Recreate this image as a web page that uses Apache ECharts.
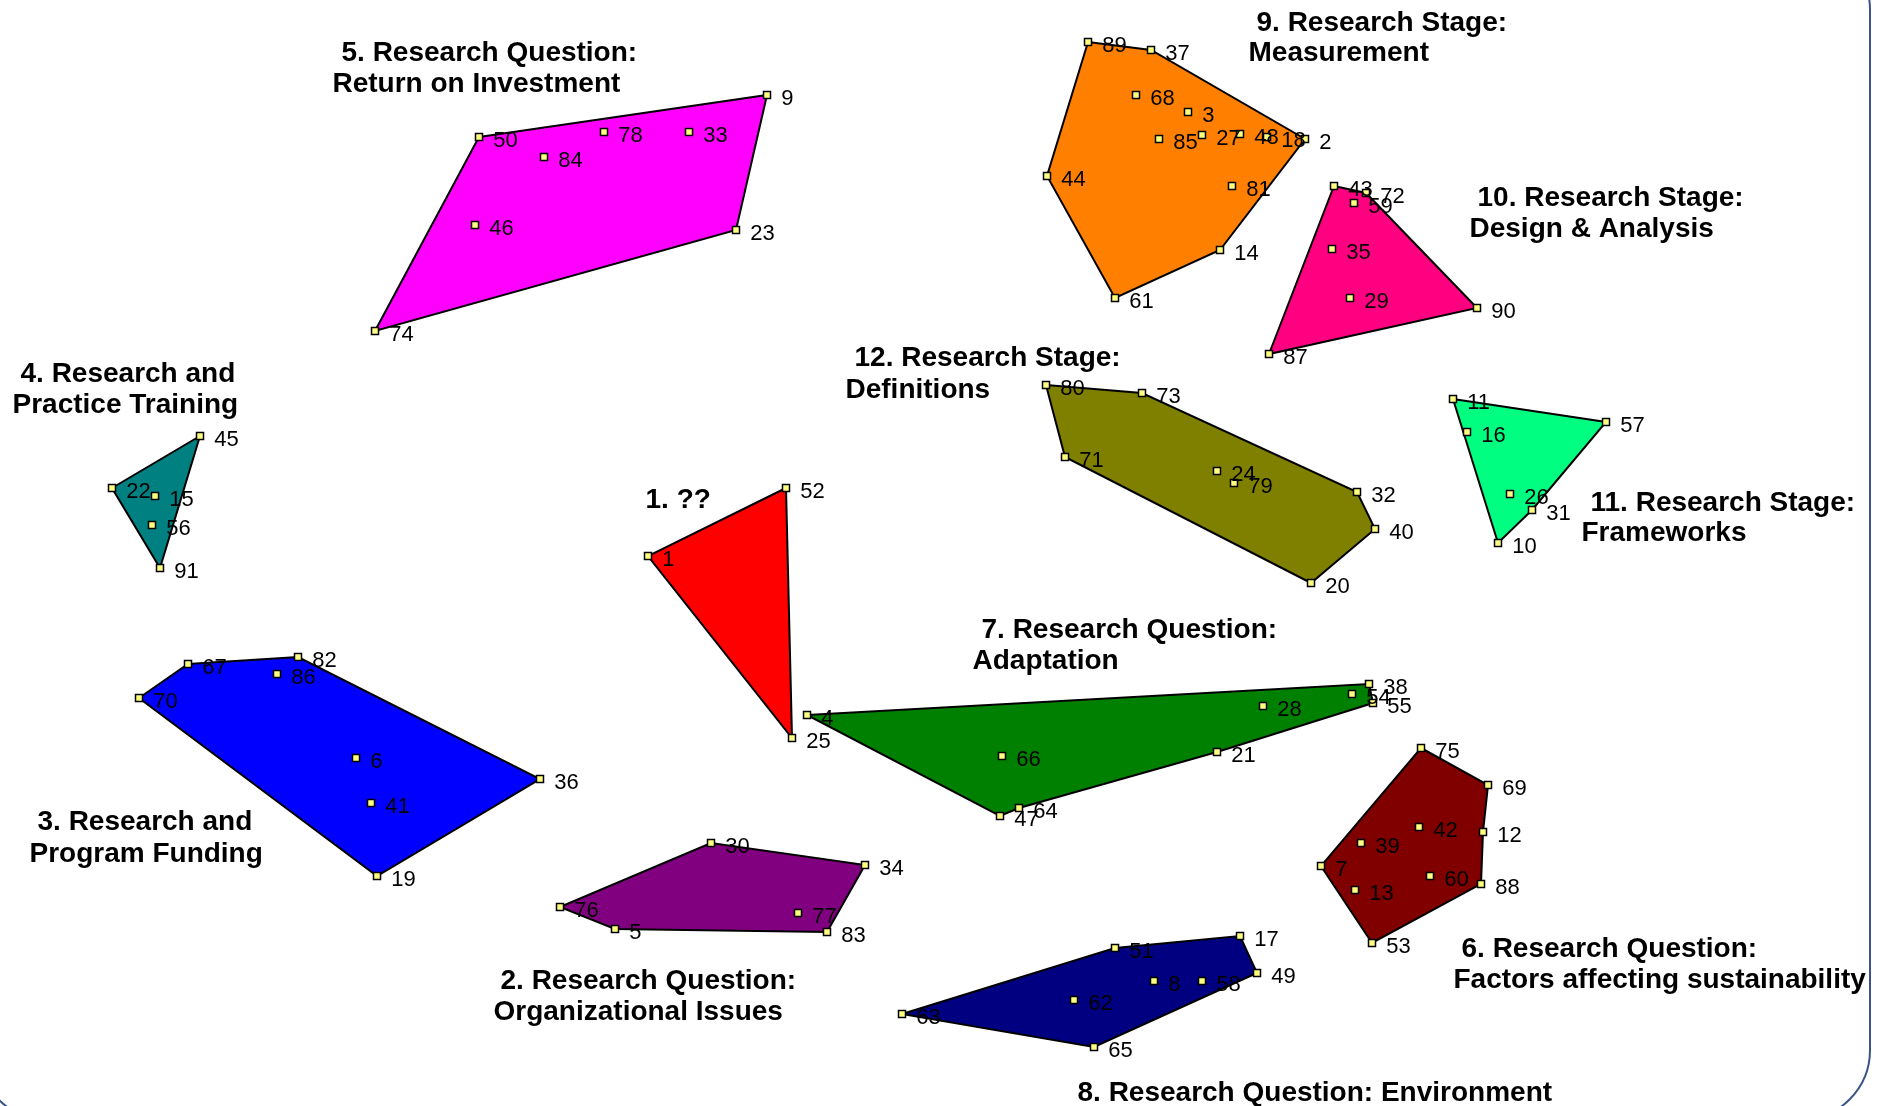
<!DOCTYPE html>
<html>
<head>
<meta charset="utf-8">
<script src="https://cdn.jsdelivr.net/npm/echarts@6/dist/echarts.min.js"></script>
<style>
html,body{margin:0;padding:0;background:#fff;}
#chart{width:1889px;height:1106px;}
</style>
</head>
<body>
<div id="chart"></div>
<script>
// ---- Data: statement positions on the concept map, [statement id, x, y] ----
const cluster1 = [['52',786,488],['1',648,556],['25',792,738]];
const cluster2 = [['76',560,907],['30',711,843],['34',865,865],['83',827,932],['5',615,929],['77',798,913]];
const cluster3 = [['70',139,698],['67',188,664],['82',298,657],['36',540,779],['19',377,876],['86',277,674],['6',356,758],['41',371,803]];
const cluster4 = [['45',200,436],['22',112,488],['91',160,568],['15',155,496],['56',152,525]];
const cluster5 = [['50',479,137],['9',767,95],['23',736,230],['74',375,331],['84',544,157],['78',604,132],['33',689,132],['46',475,225]];
const cluster6 = [['75',1421,748],['69',1488,785],['12',1483,832],['88',1481,884],['53',1372,943],['7',1321,866],['39',1361,843],['42',1419,827],['13',1355,890],['60',1430,876]];
const cluster7 = [['4',807,715],['38',1369,684],['55',1373,703],['21',1217,752],['64',1019,808],['47',1000,816],['66',1002,756],['28',1263,706],['54',1352,694]];
const cluster8 = [['63',902,1014],['51',1115,948],['17',1240,936],['49',1257,973],['65',1094,1047],['62',1074,1000],['8',1154,981],['58',1202,981]];
const cluster9 = [['89',1088,42],['37',1151,50],['2',1305,139],['14',1220,250],['61',1115,298],['44',1047,176],['68',1136,95],['3',1188,112],['85',1159,139],['27',1202,135],['48',1240,134],['18',1267,137],['81',1232,186]];
const cluster10 = [['43',1334,186],['72',1366,193],['90',1477,308],['87',1269,354],['59',1354,203],['35',1332,249],['29',1350,298]];
const cluster11 = [['11',1453,399],['57',1606,422],['31',1532,510],['10',1498,543],['16',1467,432],['26',1510,494]];
const cluster12 = [['80',1046,385],['73',1142,393],['32',1357,492],['40',1375,529],['20',1311,583],['71',1065,457],['24',1217,471],['79',1234,483]];

// hull (boundary) statement ids, in drawing order
const hull1 = ['52','1','25'];
const hull2 = ['76','30','34','83','5'];
const hull3 = ['70','67','82','36','19'];
const hull4 = ['45','22','91'];
const hull5 = ['50','9','23','74'];
const hull6 = ['75','69','12','88','53','7'];
const hull7 = ['4','38','55','21','64','47'];
const hull8 = ['63','51','17','49','65'];
const hull9 = ['89','37','2','14','61','44'];
const hull10 = ['43','72','90','87'];
const hull11 = ['11','57','31','10'];
const hull12 = ['80','73','32','40','20','71'];

// cluster names (one entry per text line)
const clusterTitles = [
  ['1. ??'],
  ['2. Research Question:','Organizational Issues'],
  ['3. Research and','Program Funding'],
  ['4. Research and','Practice Training'],
  ['5. Research Question:','Return on Investment'],
  ['6. Research Question:','Factors affecting sustainability'],
  ['7. Research Question:','Adaptation'],
  ['8. Research Question: Environment'],
  ['9. Research Stage:','Measurement'],
  ['10. Research Stage:','Design & Analysis'],
  ['11. Research Stage:','Frameworks'],
  ['12. Research Stage:','Definitions']
];

// ---- layout / style (kept apart from data) ----
const titleAnchors = [
  [[645,500]],
  [[500,981],[493,1012]],
  [[37,822],[29,854]],
  [[20,374],[12,405]],
  [[341,53],[332,84]],
  [[1461,949],[1453,980]],
  [[981,630],[972,661]],
  [[1077,1093]],
  [[1256,23],[1248,53]],
  [[1477,198],[1469,229]],
  [[1590,503],[1581,533]],
  [[854,358],[845,390]]
];
const clusterColors = ['#FF0000','#800080','#0000FF','#008080','#FF00FF','#800000','#008000','#000080','#FF8000','#FF0080','#00FF80','#808000'];

const allClusters = [cluster1,cluster2,cluster3,cluster4,cluster5,cluster6,cluster7,cluster8,cluster9,cluster10,cluster11,cluster12];
const allHulls = [hull1,hull2,hull3,hull4,hull5,hull6,hull7,hull8,hull9,hull10,hull11,hull12];

const polygonData = allClusters.map((c, i) => {
  const byId = {};
  c.forEach(p => byId[p[0]] = p);
  const pts = allHulls[i].map(id => [byId[id][1], byId[id][2]]);
  return { value: [pts[0][0], pts[0][1]], pts: pts, color: clusterColors[i] };
});

const pointData = [];
allClusters.forEach(c => c.forEach(p => pointData.push([p[1], p[2], p[0]])));

const titleData = [];
clusterTitles.forEach((lines, i) => lines.forEach((t, j) => {
  titleData.push([titleAnchors[i][j][0], titleAnchors[i][j][1], t]);
}));

const chart = echarts.init(document.getElementById('chart'), null, {renderer: 'canvas'});
chart.setOption({
  animation: false,
  backgroundColor: '#ffffff',
  grid: {left: 0, right: 0, top: 0, bottom: 0},
  xAxis: {type: 'value', min: 0, max: 1889, show: false},
  yAxis: {type: 'value', min: 0, max: 1106, inverse: true, show: false},
  graphic: [{
    type: 'rect',
    silent: true,
    shape: {x: -22, y: -60, width: 1892, height: 1180, r: 70},
    style: {fill: 'none', stroke: '#3b5487', lineWidth: 2}
  }],
  series: [
    {
      type: 'custom',
      silent: true,
      data: polygonData,
      renderItem: function (params, api) {
        const d = polygonData[params.dataIndex];
        const pts = d.pts.map(p => api.coord(p));
        return {
          type: 'polygon',
          shape: {points: pts},
          style: {fill: d.color, stroke: '#000', lineWidth: 2}
        };
      },
      z: 1
    },
    {
      type: 'scatter',
      silent: true,
      data: pointData,
      symbol: 'rect',
      symbolSize: 7,
      itemStyle: {color: '#ffff80', borderColor: '#000', borderWidth: 1.5, opacity: 1},
      label: {
        show: true,
        position: 'right',
        distance: 10,
        offset: [0, 4],
        formatter: p => p.value[2],
        fontFamily: 'Liberation Sans, Arial, sans-serif',
        fontSize: 22,
        color: '#000'
      },
      emphasis: {disabled: true},
      z: 3
    },
    {
      type: 'scatter',
      silent: true,
      data: titleData,
      symbol: 'circle',
      symbolSize: 1,
      itemStyle: {color: '#fff', opacity: 0},
      label: {
        show: true,
        position: 'right',
        distance: 0,
        formatter: p => p.value[2],
        fontFamily: 'Liberation Sans, Arial, sans-serif',
        fontWeight: 'bold',
        fontSize: 28,
        color: '#000000',
        opacity: 1,
        textBorderWidth: 0
      },
      emphasis: {disabled: true},
      z: 4
    }
  ]
});
</script>
</body>
</html>
